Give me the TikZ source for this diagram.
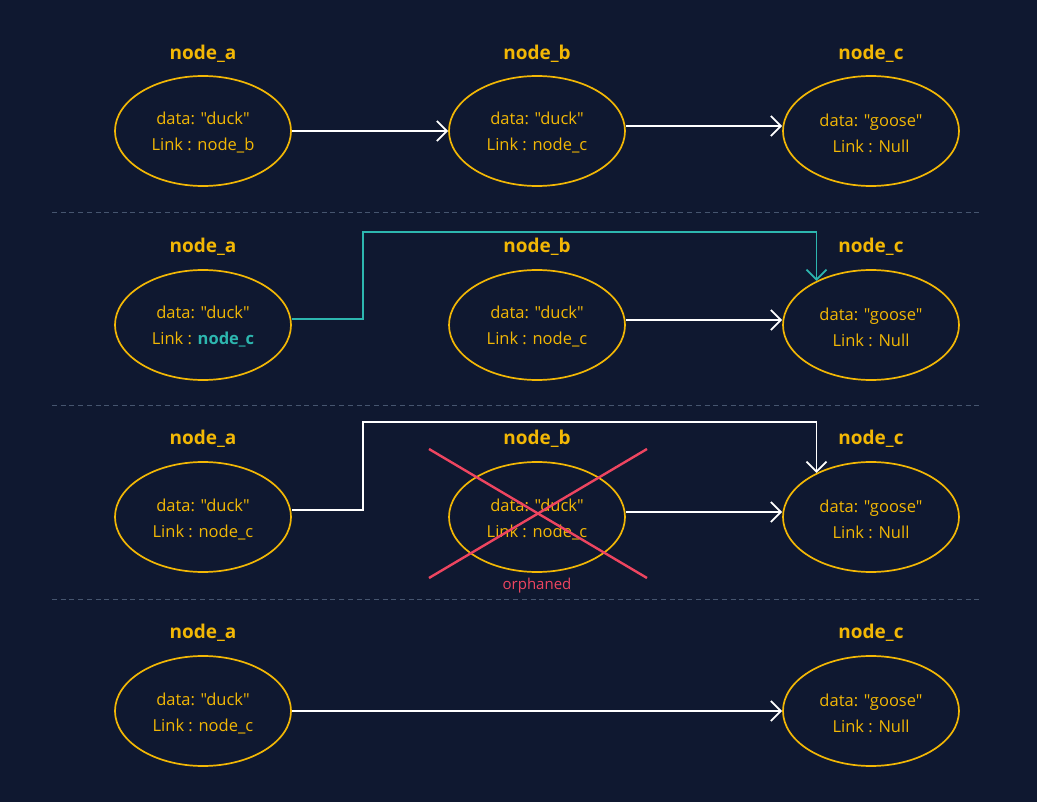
\documentclass[tikz,border=0pt]{standalone}
\usepackage{fontspec}
% no TeX ligature mapping, so straight double quotes stay straight
\newfontfamily\uifont{Open Sans}
\usetikzlibrary{shapes.geometric,arrows.meta}
\definecolor{bg}{HTML}{0F1830}
\definecolor{gold}{HTML}{F2B705}
\definecolor{tealc}{HTML}{2DB6AF}
\definecolor{redx}{HTML}{EE4560}
\definecolor{sepc}{HTML}{46556F}
\begin{document}
\begin{tikzpicture}[x=1pt,y=-1pt,
  llnode/.style={ellipse,draw=gold,line width=1.7pt,minimum width=176pt,minimum height=110pt,inner sep=0pt},
  body/.style={text=gold,font=\uifont\fontsize{16.5}{26}\selectfont,align=center,inner sep=0pt},
  title/.style={text=gold,font=\uifont\fontsize{19}{21}\selectfont\bfseries},
  link/.style={draw=white,line width=1.8pt,-{Straight Barb[length=10pt,width=20pt,line width=1.8pt]}},
  newlink/.style={link,draw=tealc},
  sepline/.style={draw=sepc,line width=1pt,dash pattern=on 5pt off 3.7pt},
  cross/.style={draw=redx,line width=2.4pt}]
% canvas
\fill[bg] (0,0) rectangle (1037,802);
\useasboundingbox (0,0) rectangle (1037,802);

% separators between the four stages
\draw[sepline] (52,213) -- (980,213);
\draw[sepline] (52,406) -- (980,406);
\draw[sepline] (52,599) -- (980,599);

% stage 1: a -> b -> c
\node[title] (ta1) at (203,54) {node\_a};
\node[title] (tb1) at (537,54) {node\_b};
\node[title] (tc1) at (871,54) {node\_c};
\node[llnode] (a1) at (203,131) {};
\node[llnode] (b1) at (537,131) {};
\node[llnode] (c1) at (871,131) {};
\node[body] (a1t) at ([yshift=-2pt]a1.center) {data: "duck"\\Link : node\_b};
\node[body] (b1t) at ([yshift=-2pt]b1.center) {data: "duck"\\Link : node\_c};
\node[body] (c1t) at ([yshift=-2pt]c1.center) {data: "goose"\\Link : Null};
\draw[link] (a1.east) -- (b1.west);
\draw[link] ([yshift=5pt]b1.east) -- ([yshift=5pt]c1.west);

% stage 2: a is relinked to c
\node[title] (ta2) at (203,247) {node\_a};
\node[title] (tb2) at (537,247) {node\_b};
\node[title] (tc2) at (871,247) {node\_c};
\node[llnode] (a2) at (203,325) {};
\node[llnode] (b2) at (537,325) {};
\node[llnode] (c2) at (871,325) {};
\node[body] (a2t) at ([yshift=-2pt]a2.center) {data: "duck"\\Link : \textcolor{tealc}{\bfseries node\_c}};
\node[body] (b2t) at ([yshift=-2pt]b2.center) {data: "duck"\\Link : node\_c};
\node[body] (c2t) at ([yshift=-2pt]c2.center) {data: "goose"\\Link : Null};
\draw[newlink] ([yshift=6pt]a2.east) -- ++(71,0) -- ++(0,-87) -| (c2.141.5);
\draw[link] ([yshift=5pt]b2.east) -- ([yshift=5pt]c2.west);

% stage 3: b is no longer reachable
\node[title] (ta3) at (203,439) {node\_a};
\node[title] (tb3) at (537,439) {node\_b};
\node[title] (tc3) at (871,439) {node\_c};
\node[llnode] (a3) at (203,517) {};
\node[llnode] (b3) at (537,517) {};
\node[llnode] (c3) at (871,517) {};
\node[body] (a3t) at ([yshift=-2pt]a3.center) {data: "duck"\\Link : node\_c};
\node[body] (b3t) at ([yshift=-2pt]b3.center) {data: "duck"\\Link : node\_c};
\node[body] (c3t) at ([yshift=-2pt]c3.center) {data: "goose"\\Link : Null};
\draw[link] ([yshift=7pt]a3.east) -- ++(71,0) -- ++(0,-88) -| (c3.141);
\draw[link] ([yshift=5pt]b3.east) -- ([yshift=5pt]c3.west);
\draw[cross] (429,449) -- (647,578);
\draw[cross] (429,578) -- (647,449);
\node[text=redx,font=\uifont\fontsize{15}{17}\selectfont] (orph) at (537,586) {orphaned};

% stage 4: a -> c
\node[title] (ta4) at (203,633) {node\_a};
\node[title] (tc4) at (871,633) {node\_c};
\node[llnode] (a4) at (203,711) {};
\node[llnode] (c4) at (871,711) {};
\node[body] (a4t) at ([yshift=-2pt]a4.center) {data: "duck"\\Link : node\_c};
\node[body] (c4t) at ([yshift=-2pt]c4.center) {data: "goose"\\Link : Null};
\draw[link] (a4.east) -- (c4.west);
\end{tikzpicture}
\end{document}
